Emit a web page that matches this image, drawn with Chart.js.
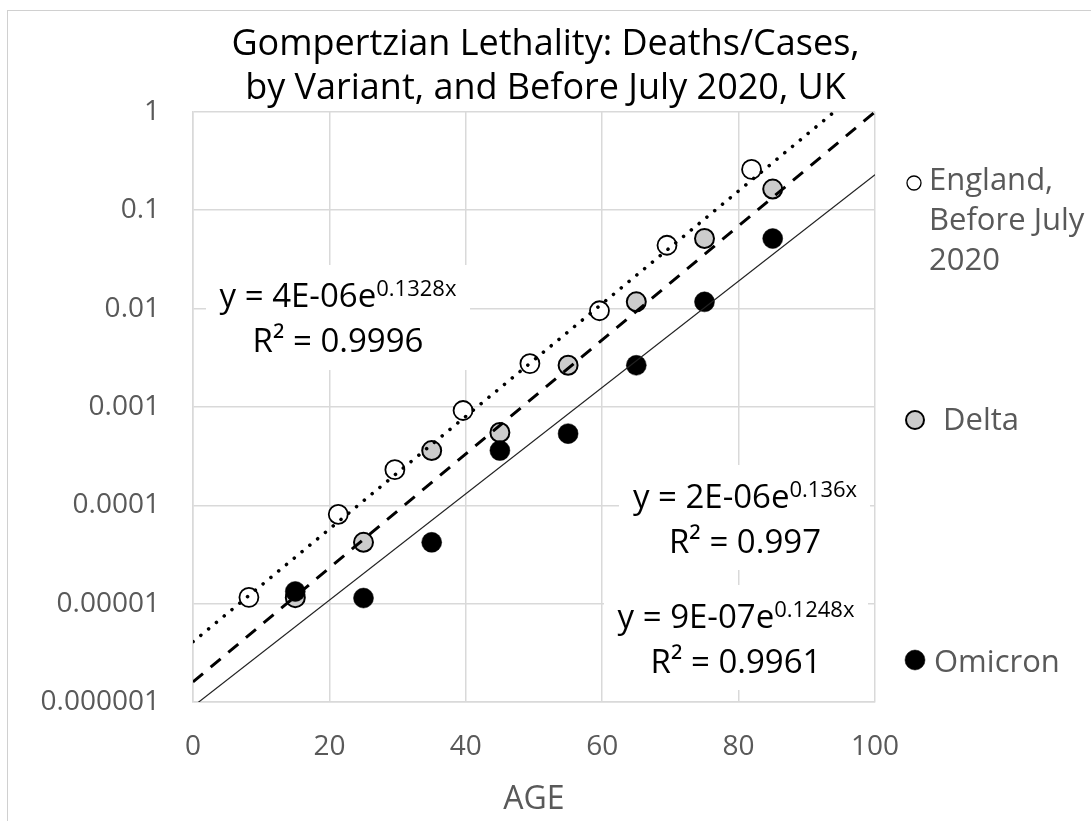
<!DOCTYPE html>
<html>
<head>
<meta charset="utf-8">
<script src="https://cdn.jsdelivr.net/npm/chart.js@4.4.1/dist/chart.umd.min.js"></script>
<style>
html,body{margin:0;padding:0;background:#fff;overflow:hidden;width:1091px;height:821px;}
#frame{position:absolute;left:7px;top:10px;width:2000px;height:2000px;border:1.5px solid #d0d0d0;}
#wrap{position:absolute;left:0;top:0;width:1091px;height:821px;}
</style>
</head>
<body>
<div id="frame"></div>
<div id="wrap"><canvas id="c" width="1091" height="821"></canvas></div>
<script>
// ---- data ----
const englandAges  = [8.2, 21.3, 29.6, 39.6, 49.4, 59.6, 69.5, 81.9];
const englandRates = [1.16e-5, 8.1e-5, 2.3e-4, 9.2e-4, 2.76e-3, 9.5e-3, 0.044, 0.26];
const variantAges  = [15, 25, 35, 45, 55, 65, 75, 85];
const deltaRates   = [1.15e-5, 4.2e-5, 3.6e-4, 5.5e-4, 2.65e-3, 0.0117, 0.0515, 0.164];
const omicronRates = [1.33e-5, 1.14e-5, 4.2e-5, 3.6e-4, 5.35e-4, 2.65e-3, 0.0117, 0.0515];
// trendline end points (age 0 and age 100)
const trendAges    = [0, 100];
const englandTrend = [4.1e-6, 2.2];
const deltaTrend   = [1.6e-6, 1.0];
const omicronTrend = [9.0e-7, 0.23];
// ticks
const yTickValues = [1e-6, 1e-5, 1e-4, 1e-3, 1e-2, 1e-1, 1];
const yTickLabels = ['0.000001','0.00001','0.0001','0.001','0.01','0.1','1'];
const xTickValues = [0, 20, 40, 60, 80, 100];
const xTickLabels = ['0','20','40','60','80','100'];
// texts
const titleLines = ['Gompertzian Lethality: Deaths/Cases,', 'by Variant, and Before July 2020, UK'];
const xAxisTitle = 'AGE';
const seriesNames = [['England,', 'Before July', '2020'], ['Delta'], ['Omicron']];
const eqMain = ['y = 4E-06e', 'y = 2E-06e', 'y = 9E-07e'];
const eqSup  = ['0.1328x', '0.136x', '0.1248x'];
const eqR2   = ['R\u00B2 = 0.9996', 'R\u00B2 = 0.997', 'R\u00B2 = 0.9961'];

const pts = (xs, ys) => xs.map((x, i) => ({x: x, y: ys[i]}));

const FONT = '"Open Sans", "Noto Sans", sans-serif';

// layout of equation boxes and legend (positions only)
const eqLayout = [
  {x0: 206, y0: 265, x1: 470, y1: 370, cx: 338, b1: 307, b2: 352},
  {x0: 619, y0: 465, x1: 870, y1: 570, cx: 745, b1: 508, b2: 553},
  {x0: 604, y0: 585, x1: 868, y1: 690, cx: 736, b1: 628, b2: 673}
];
const legendLayout = [
  {mx: 914, my: 183, r: 7, fill: '#ffffff', lw: 1.3, tx: 929, base: 190, step: 40},
  {mx: 915, my: 420, r: 9, fill: '#cccccc', lw: 2, tx: 943, base: 430, step: 40},
  {mx: 915, my: 660, r: 10, fill: '#000000', lw: 0.5, tx: 934, base: 672, step: 40}
];

const eqPlugin = {
  id: 'eqs',
  beforeDatasetsDraw(chart) {
    const ctx = chart.ctx;
    ctx.save();
    eqLayout.forEach((b, i) => {
      ctx.fillStyle = '#ffffff';
      ctx.fillRect(b.x0, b.y0, b.x1 - b.x0, b.y1 - b.y0);
      const mainF = '33px ' + FONT, supF = '22px ' + FONT;
      ctx.font = mainF; const wm = ctx.measureText(eqMain[i]).width;
      ctx.font = supF; const ws = ctx.measureText(eqSup[i]).width;
      const x = b.cx - (wm + ws) / 2;
      ctx.fillStyle = '#000000';
      ctx.textBaseline = 'alphabetic';
      ctx.textAlign = 'left';
      ctx.font = mainF; ctx.fillText(eqMain[i], x, b.b1);
      ctx.font = supF; ctx.fillText(eqSup[i], x + wm, b.b1 - 11);
      ctx.font = mainF; ctx.textAlign = 'center';
      ctx.fillText(eqR2[i], b.cx, b.b2);
    });
    ctx.restore();
  }
};

const legendPlugin = {
  id: 'sideLegend',
  afterDraw(chart) {
    const ctx = chart.ctx;
    ctx.save();
    legendLayout.forEach((l, i) => {
      ctx.beginPath();
      ctx.arc(l.mx, l.my, l.r, 0, Math.PI * 2);
      ctx.fillStyle = l.fill; ctx.fill();
      ctx.lineWidth = l.lw; ctx.strokeStyle = '#000000'; ctx.stroke();
      ctx.fillStyle = '#595959';
      ctx.font = '31px ' + FONT;
      ctx.textAlign = 'left';
      ctx.textBaseline = 'alphabetic';
      seriesNames[i].forEach((t, k) => ctx.fillText(t, l.tx, l.base + k * l.step));
    });
    ctx.restore();
  }
};

const gridStyle = {color: '#d9d9d9', lineWidth: 1.5, drawTicks: false};
const borderStyle = {display: true, color: '#d9d9d9', width: 1.5};

new Chart(document.getElementById('c'), {
  type: 'scatter',
  data: {
    datasets: [
      {label: 'England trend', data: pts(trendAges, englandTrend), showLine: true, pointRadius: 0,
       borderColor: '#000000', borderWidth: 3.5, borderDash: [0.1, 10], borderCapStyle: 'round', order: 0},
      {label: 'Delta trend', data: pts(trendAges, deltaTrend), showLine: true, pointRadius: 0,
       borderColor: '#000000', borderWidth: 3, borderDash: [13, 10], borderCapStyle: 'butt', order: 0},
      {label: 'Omicron trend', data: pts(trendAges, omicronTrend), showLine: true, pointRadius: 0,
       borderColor: '#222222', borderWidth: 1.2, order: 0},
      {label: 'Omicron', data: pts(variantAges, omicronRates), pointRadius: 10,
       pointBackgroundColor: '#000000', pointBorderColor: '#000000', pointBorderWidth: 0.5, order: 1},
      {label: 'Delta', data: pts(variantAges, deltaRates), pointRadius: 9.5,
       pointBackgroundColor: '#cccccc', pointBorderColor: '#000000', pointBorderWidth: 2, order: 2},
      {label: 'England, Before July 2020', data: pts(englandAges, englandRates), pointRadius: 9.5,
       pointBackgroundColor: '#ffffff', pointBorderColor: '#000000', pointBorderWidth: 1.8, order: 3}
    ]
  },
  options: {
    responsive: false,
    animation: false,
    events: [],
    layout: {padding: {top: 0, left: 0, right: 0, bottom: 0}},
    plugins: {
      legend: {display: false},
      tooltip: {enabled: false},
      title: {
        display: true,
        text: titleLines,
        color: '#000000',
        font: {family: FONT, size: 36, weight: 'normal', lineHeight: 1.22},
        padding: {top: 23, bottom: 1}
      }
    },
    scales: {
      x: {
        type: 'linear', min: 0, max: 100,
        afterBuildTicks: s => { s.ticks = xTickValues.map(v => ({value: v})); },
        afterFit: s => { s.height = 119; },
        ticks: {color: '#595959', font: {family: FONT, size: 28}, padding: 28,
                callback: (v, i) => xTickLabels[i]},
        grid: gridStyle, border: borderStyle,
        title: {display: true, text: xAxisTitle, color: '#595959',
                font: {family: FONT, size: 32}, padding: {top: 0, bottom: 2}}
      },
      y: {
        type: 'logarithmic', min: 1e-6, max: 1,
        afterBuildTicks: s => { s.ticks = yTickValues.map(v => ({value: v})); },
        afterFit: s => { s.width = 193; },
        ticks: {color: '#595959', font: {family: FONT, size: 28}, padding: 33,
                callback: (v, i) => yTickLabels[i]},
        grid: gridStyle, border: borderStyle
      },
      y2: {
        type: 'linear', position: 'right', display: true,
        afterFit: s => { s.width = 216; },
        ticks: {display: false}, grid: {display: false}, border: {display: false}
      }
    }
  },
  plugins: [eqPlugin, legendPlugin]
});
</script>
</body>
</html>
